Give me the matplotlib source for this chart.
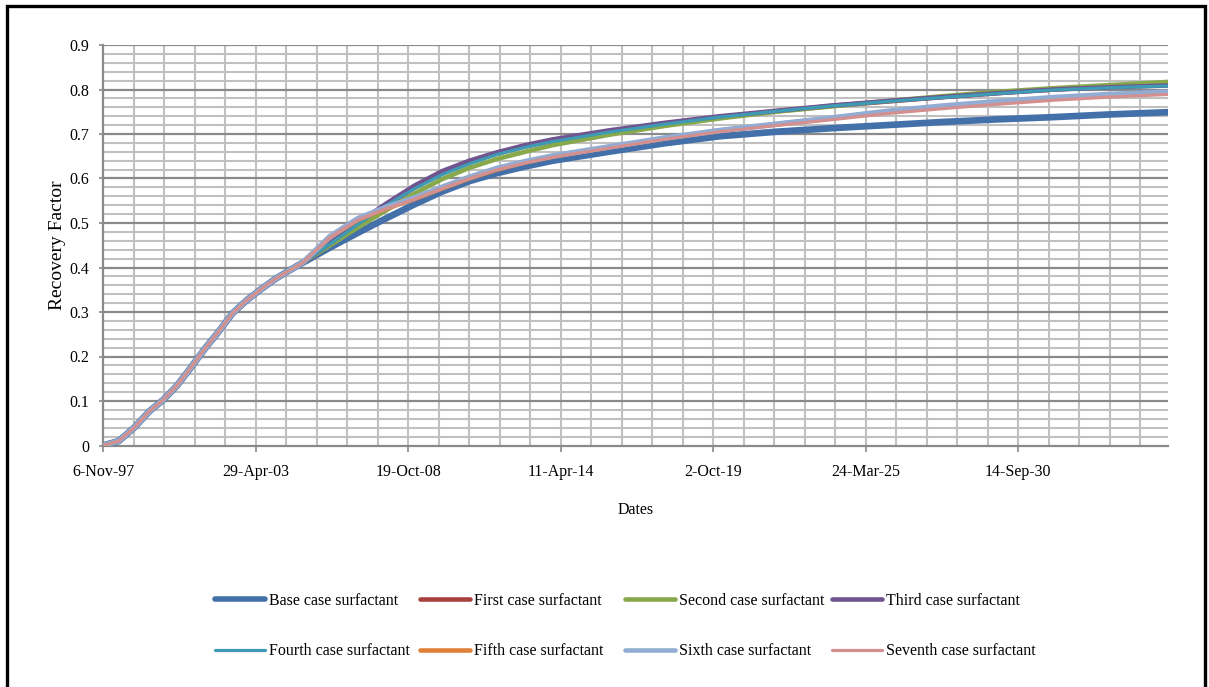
import datetime as dt
import matplotlib
matplotlib.use("Agg")
import matplotlib.pyplot as plt
import matplotlib.dates as mdates
from matplotlib.ticker import FixedLocator, FuncFormatter, MultipleLocator
from matplotlib.patches import Rectangle

# ---- data -----------------------------------------------------------------
dates = ["1997-11-06", "1998-06-01", "1999-01-01", "1999-07-01", "2000-01-01",
         "2000-07-01", "2001-01-01", "2001-07-01", "2002-01-01", "2002-07-01",
         "2003-01-01", "2003-07-01", "2004-01-01", "2004-07-01", "2005-01-01",
         "2006-01-01", "2007-01-01", "2008-01-01", "2009-01-01", "2010-01-01",
         "2011-01-01", "2012-01-01", "2013-01-01", "2014-01-01", "2016-01-01",
         "2018-01-01", "2020-01-01", "2022-01-01", "2024-01-01", "2026-01-01",
         "2028-01-01", "2030-01-01", "2032-01-01", "2034-01-01", "2036-02-01"]

# shared early history (primary depletion before the surfactant cases split)
early = [0.000, 0.010, 0.042, 0.076, 0.102, 0.134, 0.175, 0.217, 0.256, 0.297,
         0.326, 0.350, 0.373, 0.392, 0.410]

base_case = early + [0.445, 0.478, 0.510, 0.541, 0.570, 0.594, 0.612, 0.627,
                     0.640, 0.660, 0.679, 0.695, 0.705, 0.713, 0.720, 0.727,
                     0.733, 0.738, 0.744, 0.749]
first_case = early + [0.452, 0.495, 0.537, 0.578, 0.612, 0.637, 0.656, 0.672,
                      0.685, 0.705, 0.722, 0.738, 0.751, 0.763, 0.773, 0.783,
                      0.792, 0.800, 0.806, 0.811]
second_case = early + [0.450, 0.490, 0.528, 0.565, 0.598, 0.624, 0.644, 0.660,
                       0.675, 0.698, 0.718, 0.735, 0.750, 0.762, 0.774, 0.785,
                       0.795, 0.803, 0.810, 0.817]
third_case = early + [0.455, 0.500, 0.543, 0.583, 0.616, 0.640, 0.659, 0.675,
                      0.688, 0.708, 0.725, 0.740, 0.752, 0.764, 0.774, 0.783,
                      0.792, 0.800, 0.805, 0.809]
fourth_case = early + [0.453, 0.497, 0.539, 0.576, 0.608, 0.633, 0.654, 0.670,
                       0.683, 0.704, 0.722, 0.738, 0.751, 0.763, 0.773, 0.782,
                       0.791, 0.799, 0.804, 0.808]
fifth_case = early + [0.468, 0.507, 0.532, 0.553, 0.577, 0.600, 0.620, 0.636,
                      0.649, 0.670, 0.690, 0.708, 0.722, 0.736, 0.750, 0.762,
                      0.772, 0.781, 0.788, 0.793]
sixth_case = early + [0.470, 0.510, 0.535, 0.556, 0.580, 0.603, 0.623, 0.638,
                      0.651, 0.671, 0.691, 0.708, 0.722, 0.736, 0.751, 0.763,
                      0.773, 0.782, 0.789, 0.794]
seventh_case = early + [0.468, 0.507, 0.532, 0.553, 0.577, 0.600, 0.620, 0.635,
                        0.648, 0.668, 0.688, 0.705, 0.719, 0.732, 0.746, 0.757,
                        0.767, 0.776, 0.783, 0.789]

series_names = ["Base case surfactant", "First case surfactant",
                "Second case surfactant", "Third case surfactant",
                "Fourth case surfactant", "Fifth case surfactant",
                "Sixth case surfactant", "Seventh case surfactant"]
series_values = [base_case, first_case, second_case, third_case,
                 fourth_case, fifth_case, sixth_case, seventh_case]
series_colors = ["#4470AA", "#A8403E", "#88A84C", "#6F5490",
                 "#3E9BB3", "#E0813A", "#93ACD4", "#D3908E"]
series_widths = [4.8, 3.3, 3.3, 3.3, 2.3, 3.3, 4.0, 2.3]
legend_widths = [4.0, 3.3, 3.3, 3.3, 2.3, 3.3, 3.3, 2.3]

# ---- styling ----------------------------------------------------------------
plt.rcParams["font.family"] = ["Liberation Serif", "DejaVu Serif"]
FS = 11.5
major_grid = "#8a8a8a"
minor_grid = "#c0c0c0"

fig = plt.figure(figsize=(12.09, 6.87), dpi=100)
ax = fig.add_axes([103 / 1209, 1 - 445.5 / 687, 1065 / 1209, 400.5 / 687])

x = mdates.date2num([dt.datetime.strptime(d, "%Y-%m-%d") for d in dates])
for name, vals, col, lw in zip(series_names, series_values, series_colors, series_widths):
    ax.plot(x, vals, color=col, lw=lw, label=name, solid_capstyle="round",
            solid_joinstyle="round", zorder=3)

# date axis: majors every 2000 days, minors every 400 days
start = dt.datetime(1997, 11, 6)
end = dt.datetime(2036, 2, 1)
x0 = mdates.date2num(start)
x1 = mdates.date2num(end)
majors = [x0 + 2000 * i for i in range(7)]
minors = [x0 + 400 * i for i in range(1, 35) if x0 + 400 * i < x1]
ax.set_xlim(x0, x1)
ax.xaxis.set_major_locator(FixedLocator(majors))
ax.xaxis.set_minor_locator(FixedLocator(minors))


def date_label(v, pos):
    d = mdates.num2date(v)
    return f"{d.day}-{d.strftime('%b-%y')}"


ax.xaxis.set_major_formatter(FuncFormatter(date_label))

ax.set_ylim(0, 0.9)
ax.yaxis.set_major_locator(MultipleLocator(0.1))
ax.yaxis.set_minor_locator(MultipleLocator(0.02))
ax.yaxis.set_major_formatter(FuncFormatter(lambda v, p: "0" if abs(v) < 1e-9 else f"{v:.1f}"))

ax.grid(False)
for yv in [0.02 * i for i in range(1, 45)]:
    if abs(yv * 10 - round(yv * 10)) > 1e-6:
        ax.axhline(yv, color=minor_grid, lw=1.5, zorder=1)
for yv in [0.1 * i for i in range(1, 10)]:
    ax.axhline(yv, color=major_grid, lw=1.6, zorder=1.5)
for xv in minors:
    ax.axvline(xv, color=minor_grid, lw=1.5, zorder=1)

for side in ["top", "right"]:
    ax.spines[side].set_visible(False)
for side in ["left", "bottom"]:
    ax.spines[side].set_color(major_grid)
    ax.spines[side].set_linewidth(1.6)

ax.tick_params(axis="x", which="major", length=4, width=1.2, color=major_grid,
               pad=9, labelsize=FS)
ax.tick_params(axis="x", which="minor", length=0)
ax.tick_params(axis="y", which="major", length=3, width=1.2, color=major_grid,
               pad=7, labelsize=FS)
ax.tick_params(axis="y", which="minor", length=0)

ax.set_xlabel("Dates", fontsize=FS)
ax.xaxis.set_label_coords(533 / 1065, -64.5 / 400.5)
ax.xaxis.label.set_va("center")
ax.set_ylabel("Recovery Factor", fontsize=14)
ax.yaxis.set_label_coords(-46 / 1065, 200 / 400.5)
ax.yaxis.label.set_va("center")

# legend: four columns, two rows each
handles = ax.get_lines()
col_x = [215, 420, 625, 832]
for c in range(4):
    hs = [handles[c], handles[c + 4]]
    leg = fig.legend(hs, [h.get_label() for h in hs], loc="upper left",
                     bbox_to_anchor=(col_x[c] / 1209, 1 - 593 / 687),
                     frameon=False, fontsize=FS, handlelength=3.1,
                     handletextpad=0.25, labelspacing=2.14, borderpad=0,
                     borderaxespad=0)
    for ln, idx in zip(leg.get_lines(), [c, c + 4]):
        ln.set_solid_capstyle("round")
        ln.set_linewidth(legend_widths[idx])

# outer border
fig.add_artist(Rectangle((7 / 1209, -0.05), 1197.5 / 1209, 1.05 - 6 / 687,
                         transform=fig.transFigure, fill=False,
                         edgecolor="black", lw=2.4))

fig.savefig("out.png", dpi=100)
